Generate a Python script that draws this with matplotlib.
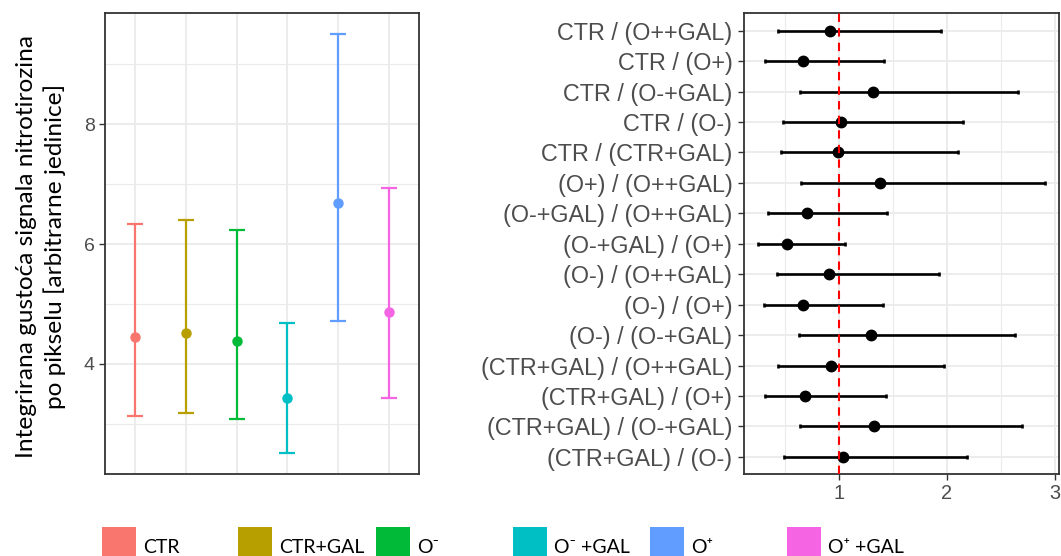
import matplotlib.pyplot as plt
import matplotlib.patches as mpatches
import numpy as np

# ---- left panel: group means with intervals ----
groups = ["CTR", "CTR+GAL", "O-", "O-+GAL", "O+", "O++GAL"]
means = [4.45, 4.51, 4.39, 3.43, 6.69, 4.87]
lower = [3.13, 3.18, 3.09, 2.51, 4.71, 3.44]
upper = [6.33, 6.41, 6.24, 4.68, 9.50, 6.93]
colors = ["#F8766D", "#B79F00", "#00BA38", "#00BFC4", "#619CFF", "#F564E3"]
legend_labels = ["CTR", "CTR+GAL", "O\u207b", "O\u207b +GAL", "O\u207a", "O\u207a +GAL"]

# ---- right panel: ratios with intervals ----
pairs = ["CTR / (O++GAL)", "CTR / (O+)", "CTR / (O-+GAL)", "CTR / (O-)",
         "CTR / (CTR+GAL)", "(O+) / (O++GAL)", "(O-+GAL) / (O++GAL)",
         "(O-+GAL) / (O+)", "(O-) / (O++GAL)", "(O-) / (O+)", "(O-) / (O-+GAL)",
         "(CTR+GAL) / (O++GAL)", "(CTR+GAL) / (O+)", "(CTR+GAL) / (O-+GAL)",
         "(CTR+GAL) / (O-)"]
ratio = [0.917, 0.671, 1.311, 1.022, 0.991, 1.378, 0.708, 0.517, 0.905,
         0.662, 1.292, 0.929, 0.683, 1.323, 1.034]
r_low = [0.431, 0.314, 0.640, 0.477, 0.465, 0.646, 0.345, 0.246, 0.425,
         0.308, 0.625, 0.431, 0.317, 0.643, 0.486]
r_high = [1.942, 1.415, 2.658, 2.151, 2.098, 2.911, 1.440, 1.052, 1.923,
          1.403, 2.628, 1.972, 1.437, 2.695, 2.185]

W, H = 1061, 556
fig = plt.figure(figsize=(W/100, H/100), dpi=100)
tick_font = "Liberation Sans"
grid_c = "#EBEBEB"
frame_c = "#333333"

#------------- left panel ----------------
ax1 = fig.add_axes([105/W, (H-474.3)/H, 314.3/W, 461/H])
x = np.arange(1, len(groups)+1)
for i in range(len(groups)):
	ax1.errorbar(x[i], means[i], yerr=[[means[i]-lower[i]], [upper[i]-means[i]]],
		fmt="o", color=colors[i], ms=6.5, elinewidth=1.6, capsize=5.8, capthick=1.6, zorder=3)
ax1.set_xlim(0.41, 6.6)
ax1.set_ylim(2.16, 9.85)
ax1.set_xticks(x)
ax1.set_xticklabels([])
ax1.tick_params(axis="x", length=0)
ax1.set_yticks([4, 6, 8])
ax1.set_yticks([3, 5, 7, 9], minor=True)
ax1.tick_params(axis="y", which="major", length=4.3, width=1, color=frame_c,
	labelsize=14, labelcolor="#4D4D4D", pad=3)
ax1.tick_params(axis="y", which="minor", length=0)
for lab in ax1.get_yticklabels():
	lab.set_fontfamily(tick_font)
ax1.grid(True, which="major", color=grid_c, lw=1.3, zorder=0)
ax1.grid(True, which="minor", axis="y", color=grid_c, lw=0.8, zorder=0)
ax1.set_axisbelow(True)
for s in ax1.spines.values():
	s.set_color(frame_c)
	s.set_linewidth(1.3)

fig.text(41/W, (H-246)/H, "Integrirana gustoća signala nitrotirozina\npo pikselu [arbitrarne jedinice]",
	rotation=90, ha="center", va="center", multialignment="center",
	fontsize=17.6, family=["Lato", "DejaVu Sans"], linespacing=1.3, color="black")

#------------- right panel ----------------
ax2 = fig.add_axes([744/W, (H-474.3)/H, 314.7/W, 461/H])
yy = np.arange(len(pairs))
ratio_a = np.array(ratio)
ax2.errorbar(ratio_a, yy, xerr=[ratio_a-np.array(r_low), np.array(r_high)-ratio_a],
	fmt="o", color="black", ms=7.5, elinewidth=1.9, capsize=1.2, capthick=1.9, zorder=3)
ax2.axvline(1, color="red", lw=1.5, dashes=(4, 3), zorder=4)
ax2.set_xlim(0.12, 3.035)
ax2.set_ylim(len(pairs)-0.43, -0.57)
ax2.set_yticks(yy)
ax2.set_yticklabels(pairs)
ax2.set_xticks([1, 2, 3])
ax2.set_xticks([0.5, 1.5, 2.5], minor=True)
ax2.tick_params(axis="x", which="major", length=4.3, width=1, color=frame_c,
	labelsize=14.4, labelcolor="#4D4D4D", pad=3)
ax2.tick_params(axis="x", which="minor", length=0)
ax2.tick_params(axis="y", length=4.3, width=1, color=frame_c,
	labelsize=16.8, labelcolor="#4D4D4D", pad=4)
for lab in ax2.get_yticklabels() + ax2.get_xticklabels():
	lab.set_fontfamily(tick_font)
ax2.grid(True, which="major", color=grid_c, lw=1.3, zorder=0)
ax2.grid(True, which="minor", axis="x", color=grid_c, lw=0.8, zorder=0)
ax2.set_axisbelow(True)
for s in ax2.spines.values():
	s.set_color(frame_c)
	s.set_linewidth(1.3)

#------------- legend strip ----------------
key_x = [102, 238, 376, 513, 650, 787]
for i in range(len(groups)):
	fig.patches.append(mpatches.Rectangle((key_x[i]/W, -0.02), 34/W, (H-527)/H+0.02,
		transform=fig.transFigure, facecolor=colors[i], edgecolor="none"))
	fig.text((key_x[i]+41)/W, (H-552.7)/H, legend_labels[i], ha="left", va="baseline",
		fontsize=14, family=["Lato", "DejaVu Sans"], color="black")

fig.savefig("out.png", dpi=100)
